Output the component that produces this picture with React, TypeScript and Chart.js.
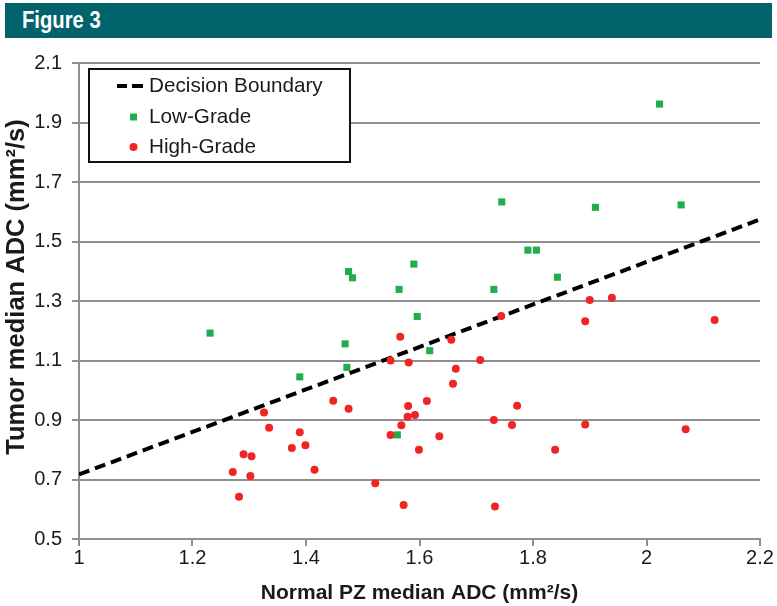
import React, { useEffect, useRef } from "react";
import { Chart, registerables } from "chart.js";

Chart.register(...registerables);

// Low-Grade tumours
const lowX = [1.231, 1.389, 1.469, 1.472, 1.475, 1.482, 1.561, 1.564, 1.590, 1.596, 1.618, 1.731, 1.745, 1.791, 1.806, 1.843, 1.910, 2.023, 2.061];
const lowY = [1.192, 1.045, 1.156, 1.077, 1.399, 1.378, 0.850, 1.339, 1.424, 1.248, 1.133, 1.339, 1.633, 1.471, 1.471, 1.380, 1.615, 1.962, 1.623];

// High-Grade tumours
const highX = [
  1.566, 1.656, 1.549, 1.581, 1.707, 1.664, 1.659, 1.448, 1.475, 1.613,
  1.580, 1.326, 1.579, 1.592, 1.335, 1.568, 1.389, 1.549, 1.635, 1.375,
  1.399, 1.599, 1.290, 1.304, 1.271, 1.415, 1.302, 1.522, 1.282, 1.572,
  1.900, 1.939, 1.744, 1.892, 2.120, 1.772, 1.731, 1.763, 1.892, 1.839,
  2.069, 1.733,
];
const highY = [
  1.180, 1.170, 1.100, 1.093, 1.102, 1.072, 1.022, 0.965, 0.938, 0.964,
  0.947, 0.925, 0.911, 0.917, 0.874, 0.882, 0.859, 0.850, 0.845, 0.806,
  0.815, 0.800, 0.785, 0.778, 0.725, 0.733, 0.712, 0.687, 0.642, 0.614,
  1.303, 1.311, 1.250, 1.232, 1.236, 0.948, 0.900, 0.883, 0.885, 0.800,
  0.869, 0.609,
];

// Decision boundary end points
const boundaryX = [1.0, 2.2];
const boundaryY = [0.717, 1.574];

// Axis ticks
const xTickValues = [1.0, 1.2, 1.4, 1.6, 1.8, 2.0, 2.2];
const xTickLabels = ["1", "1.2", "1.4", "1.6", "1.8", "2", "2.2"];
const yTickValues = [0.5, 0.7, 0.9, 1.1, 1.3, 1.5, 1.7, 1.9, 2.1];
const yTickLabels = ["0.5", "0.7", "0.9", "1.1", "1.3", "1.5", "1.7", "1.9", "2.1"];

const seriesNames = ["Decision Boundary", "Low-Grade", "High-Grade"];
const figureTitle = "Figure 3";
const xTitle = "Normal PZ median ADC (mm²/s)";
const yTitle = "Tumor median ADC (mm²/s)";

const GREEN = "#1fae4b";
const RED = "#ee2524";
const GRID = "#8f8f8f";
const TEXT = "#1a1a1a";
const FONT = "'Liberation Sans', Arial, sans-serif";

const legendPlugin = {
  id: "boxLegend",
  afterDraw(chart: any) {
    const ctx = chart.ctx as CanvasRenderingContext2D;
    const left = 89, top = 69, w = 261, h = 93;
    ctx.save();
    ctx.fillStyle = "#ffffff";
    ctx.fillRect(left, top, w, h);
    ctx.strokeStyle = "#111111";
    ctx.lineWidth = 2;
    ctx.strokeRect(left, top, w, h);
    ctx.font = `20.7px ${FONT}`;
    ctx.fillStyle = TEXT;
    ctx.textBaseline = "middle";
    ctx.textAlign = "left";
    const rows = [86, 117, 147];
    ctx.strokeStyle = "#000000";
    ctx.lineWidth = 4;
    ctx.beginPath();
    ctx.moveTo(117, rows[0]);
    ctx.lineTo(127, rows[0]);
    ctx.moveTo(132, rows[0]);
    ctx.lineTo(143, rows[0]);
    ctx.stroke();
    ctx.fillStyle = GREEN;
    ctx.fillRect(130, rows[1] - 3.5, 7, 7);
    ctx.fillStyle = RED;
    ctx.beginPath();
    ctx.arc(133.5, rows[2], 4, 0, Math.PI * 2);
    ctx.fill();
    ctx.fillStyle = TEXT;
    seriesNames.forEach((name, i) => ctx.fillText(name, 149, rows[i]));

    // rotated y-axis title
    ctx.translate(17, 287);
    ctx.rotate(-Math.PI / 2);
    ctx.font = `bold 25.5px ${FONT}`;
    ctx.textAlign = "center";
    ctx.textBaseline = "middle";
    ctx.fillText(yTitle, 0, 0);
    ctx.restore();
  },
};

export default function App() {
  const ref = useRef<HTMLCanvasElement | null>(null);

  useEffect(() => {
    if (!ref.current) return;
    const chart = new Chart(ref.current, {
      type: "scatter",
      data: {
        datasets: [
          {
            label: seriesNames[2],
            data: highX.map((x, i) => ({ x, y: highY[i] })),
            pointStyle: "circle",
            pointRadius: 4,
            pointBackgroundColor: RED,
            pointBorderColor: RED,
            pointBorderWidth: 0,
            showLine: false,
          },
          {
            label: seriesNames[1],
            data: lowX.map((x, i) => ({ x, y: lowY[i] })),
            pointStyle: "rect",
            pointRadius: 5,
            pointBackgroundColor: GREEN,
            pointBorderColor: GREEN,
            pointBorderWidth: 0,
            showLine: false,
          },
          {
            label: seriesNames[0],
            data: boundaryX.map((x, i) => ({ x, y: boundaryY[i] })),
            showLine: true,
            borderColor: "#000000",
            borderWidth: 4,
            borderDash: [11, 6],
            pointRadius: 0,
            fill: false,
          },
        ],
      },
      plugins: [legendPlugin],
      options: {
        animation: false,
        responsive: false,
        events: [],
        layout: { padding: { left: 0, top: 63, right: 17, bottom: 0 } },
        plugins: { legend: { display: false }, tooltip: { enabled: false }, title: { display: false } },
        scales: {
          x: {
            type: "linear",
            min: 1,
            max: 2.2,
            afterBuildTicks: (s: any) => {
              s.ticks = xTickValues.map((v) => ({ value: v }));
            },
            afterFit: (s: any) => {
              s.height = 67;
            },
            ticks: {
              padding: 0,
              color: TEXT,
              font: { family: FONT, size: 20 },
              callback: (_v: any, i: number) => xTickLabels[i],
              maxRotation: 0,
              autoSkip: false,
            },
            grid: { drawOnChartArea: false, drawTicks: true, tickLength: 7, color: GRID, lineWidth: 2 },
            border: { display: true, color: GRID, width: 2 },
            title: {
              display: true,
              text: xTitle,
              color: TEXT,
              font: { family: FONT, size: 21, weight: "bold" },
              padding: { top: 0, bottom: 0 },
            },
          },
          y: {
            type: "linear",
            min: 0.5,
            max: 2.1,
            afterBuildTicks: (s: any) => {
              s.ticks = yTickValues.map((v) => ({ value: v }));
            },
            afterFit: (s: any) => {
              s.width = 79;
            },
            ticks: {
              padding: 10,
              color: TEXT,
              font: { family: FONT, size: 20 },
              callback: (_v: any, i: number) => yTickLabels[i],
              autoSkip: false,
            },
            grid: { drawOnChartArea: true, drawTicks: true, tickLength: 7, color: GRID, lineWidth: 2 },
            border: { display: true, color: GRID, width: 2 },
            title: { display: false },
          },
        },
      },
    } as any);
    return () => chart.destroy();
  }, []);

  return (
    <div style={{ position: "absolute", left: 0, top: 0, width: 777, height: 606, background: "#ffffff" }}>
      <canvas ref={ref} width={777} height={606} style={{ position: "absolute", left: 0, top: 0, width: 777, height: 606 }} />
      <div
        style={{
          position: "absolute",
          left: 5,
          top: 3,
          width: 767,
          height: 35,
          background: "#03636c",
        }}
      >
        <span
          style={{
            position: "absolute",
            left: 17,
            top: 4,
            color: "#ffffff",
            fontFamily: FONT,
            fontWeight: "bold",
            fontSize: 23,
            lineHeight: "27px",
            display: "inline-block",
            transform: "scaleX(0.88)",
            transformOrigin: "left center",
            whiteSpace: "nowrap",
          }}
        >
          {figureTitle}
        </span>
      </div>
    </div>
  );
}
